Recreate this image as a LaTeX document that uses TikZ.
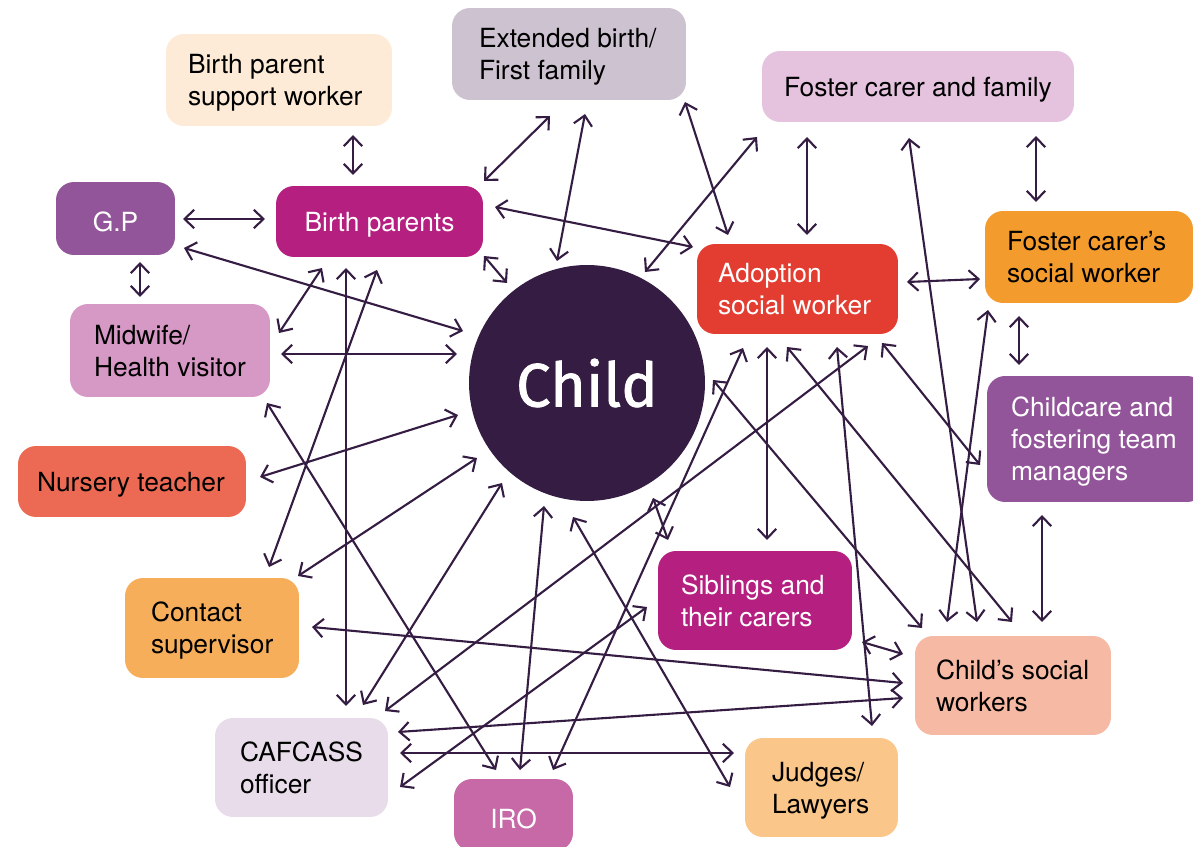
\documentclass[tikz,border=0pt]{standalone}
\usepackage{fontspec}
\setmainfont{TeX Gyre Heros}
\newfontfamily\childfont{Fira Sans}[FakeBold=1.2]
\usetikzlibrary{arrows.meta}
\definecolor{cdark}{HTML}{351C42}
\definecolor{cbpsw}{HTML}{FDEBD7}
\definecolor{cext}{HTML}{CDC2D0}
\definecolor{cfam}{HTML}{E5C3DF}
\definecolor{cgp}{HTML}{93559A}
\definecolor{cbp}{HTML}{B51F80}
\definecolor{cadopt}{HTML}{E33D31}
\definecolor{cfsw}{HTML}{F39C2D}
\definecolor{cmid}{HTML}{D698C4}
\definecolor{cmgr}{HTML}{93559A}
\definecolor{cnurs}{HTML}{EC6A53}
\definecolor{csib}{HTML}{B51F80}
\definecolor{ccontact}{HTML}{F6AE5B}
\definecolor{ccsw}{HTML}{F6B9A4}
\definecolor{ccaf}{HTML}{E8DCEB}
\definecolor{ciro}{HTML}{C769A7}
\definecolor{cjudge}{HTML}{FAC689}
\newcommand{\linkpair}[4]{%
  \coordinate (#1-#2) at (#3);
  \coordinate (#2-#1) at (#4);
  \draw[link] (#1-#2) -- (#2-#1);}
\newcommand{\boxtext}[2]{\raisebox{-0.07cm}[\height][\depth]{\makebox[#1][l]{\begin{tabular}{@{}l@{}}#2\end{tabular}}}}
\newcommand{\ctext}[1]{\raisebox{-0.07cm}[\height][\depth]{#1}}
\begin{document}
\begin{tikzpicture}[x=0.02cm,y=-0.02cm,
  box/.style={rectangle, rounded corners=0.36cm, inner ysep=0pt,
    font=\fontsize{15}{18.2}\selectfont, text=black},
  wbox/.style={box, text=white},
  cbox/.style={box, inner xsep=0pt},
  link/.style={draw=cdark, line width=1.2pt,
    {Straight Barb[length=5.5pt,width=10.5pt]}-{Straight Barb[length=5.5pt,width=10.5pt]}}]
\useasboundingbox (0,0) rectangle (1193,847);

% boxes
\node[box, fill=cbpsw, minimum width=4.52cm, minimum height=1.84cm, inner xsep=0.44cm] (bpsw) at (279,80) {\boxtext{3.64cm}{Birth parent\\support worker}};
\node[box, fill=cext, minimum width=4.68cm, minimum height=1.84cm, inner xsep=0.54cm] (ext) at (569,54) {\boxtext{3.6cm}{Extended birth/\\First family}};
\node[box, fill=cfam, minimum width=6.24cm, minimum height=1.42cm, inner xsep=0.44cm] (fam) at (918,86.5) {\boxtext{5.36cm}{Foster carer and family}};
\node[cbox, text=white, fill=cgp, minimum width=2.38cm, minimum height=1.46cm] (gp) at (115.5,218.5) {\ctext{G.P}};
\node[cbox, text=white, fill=cbp, minimum width=4.14cm, minimum height=1.42cm] (bp) at (379.5,221.5) {\ctext{Birth parents}};
\node[wbox, fill=cadopt, minimum width=4.02cm, minimum height=1.80cm, inner xsep=0.42cm] (adopt) at (797.5,289) {\boxtext{3.18cm}{Adoption\\social worker}};
\node[box, fill=cfsw, minimum width=4.16cm, minimum height=1.84cm, inner xsep=0.44cm] (fsw) at (1089,257) {\boxtext{3.28cm}{Foster carer’s\\social worker}};
\node[box, fill=cmid, minimum width=4.00cm, minimum height=1.86cm, inner xsep=0.48cm] (mid) at (170,350.5) {\boxtext{3.04cm}{Midwife/\\Health visitor}};
\node[wbox, fill=cmgr, minimum width=4.36cm, minimum height=2.52cm, inner xsep=0.48cm] (mgr) at (1096,439) {\boxtext{3.4cm}{Childcare and\\fostering team\\managers}};
\node[box, fill=cnurs, minimum width=4.56cm, minimum height=1.42cm, inner xsep=0.38cm] (nurs) at (132,481.5) {\boxtext{3.8cm}{Nursery teacher}};
\node[wbox, fill=csib, minimum width=3.88cm, minimum height=1.98cm, inner xsep=0.46cm] (sib) at (755,600.5) {\boxtext{2.96cm}{Siblings and\\their carers}};
\node[box, fill=ccontact, minimum width=3.48cm, minimum height=2.00cm, inner xsep=0.52cm] (contact) at (212,628) {\boxtext{2.44cm}{Contact\\supervisor}};
\node[box, fill=ccsw, minimum width=3.92cm, minimum height=1.98cm, inner xsep=0.42cm] (csw) at (1013,685.5) {\boxtext{3.08cm}{Child’s social\\workers}};
\node[box, fill=ccaf, minimum width=3.46cm, minimum height=1.98cm, inner xsep=0.5cm] (caf) at (301.5,767.5) {\boxtext{2.46cm}{CAFCASS\\officer}};
\node[cbox, text=white, fill=ciro, minimum width=2.38cm, minimum height=1.44cm] (iro) at (513.5,815) {\ctext{IRO}};
\node[box, fill=cjudge, minimum width=3.06cm, minimum height=1.98cm, inner xsep=0.54cm] (judge) at (821.5,787.5) {\boxtext{1.98cm}{Judges/\\Lawyers}};

\node[circle, fill=cdark, minimum size=4.72cm, inner sep=0pt, text=white,
  font=\childfont\fontsize{35}{40}\selectfont] (child) at (587,383) {Child};

% connectors
\linkpair{bpsw}{bp}{353,135}{353,175}
\linkpair{gp}{bp}{183,219}{265,219}
\linkpair{gp}{mid}{140,262}{140,297}
\linkpair{ext}{bp}{550,116}{484,181}
\linkpair{ext}{child}{585,114}{557,261}
\linkpair{ext}{adopt}{685,102}{728,235}
\linkpair{fam}{child}{757,137}{645,272}
\linkpair{bp}{adopt}{495,207}{693,247}
\linkpair{bp}{child}{484,256}{507,283}
\linkpair{gp}{child}{184,248}{463,331}
\linkpair{bp}{mid}{322,268}{279,333}
\linkpair{mid}{child}{281,354}{457,354}
\linkpair{bp}{caf}{346,268}{346,706}
\linkpair{bp}{contact}{377,270}{269,567}
\linkpair{nurs}{child}{260,477}{458,415}
\linkpair{mid}{iro}{267,403}{496,770}
\linkpair{contact}{child}{298,576}{477,458}
\linkpair{caf}{child}{363,705}{502,483}
\linkpair{iro}{child}{520,770}{544,506}
\linkpair{iro}{adopt}{553,770}{743,348}
\linkpair{adopt}{sib}{767,347}{767,540}
\linkpair{adopt}{csw}{787,347}{1012,622}
\linkpair{adopt}{judge}{837,347}{872,726}
\linkpair{caf}{adopt}{385,711}{868,346}
\linkpair{adopt}{mgr}{882,343}{980,465}
\linkpair{child}{judge}{573,517}{730,787}
\linkpair{child}{sib}{653,498}{668,540}
\linkpair{child}{csw}{713,380}{922,628}
\linkpair{fsw}{csw}{988,310}{947,622}
\linkpair{fam}{csw}{909,138}{977,622}
\linkpair{mgr}{csw}{1042,515}{1042,622}
\linkpair{fsw}{mgr}{1019,316}{1019,365}
\linkpair{fam}{adopt}{807,137}{807,235}
\linkpair{fam}{fsw}{1036,136}{1036,202}
\linkpair{adopt}{fsw}{907,282}{980,279}
\linkpair{contact}{csw}{312,627}{903,683}
\linkpair{caf}{csw}{398,732}{903,698}
\linkpair{caf}{judge}{400,753}{734,753}
\linkpair{sib}{csw}{862,642}{903,654}
\linkpair{caf}{sib}{400,787}{647,607}
\end{tikzpicture}
\end{document}
